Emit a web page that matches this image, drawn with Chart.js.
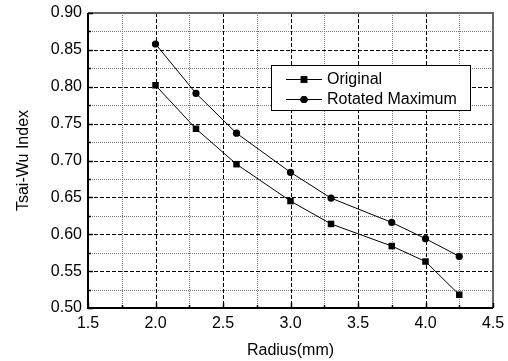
<!DOCTYPE html>
<html>
<head>
<meta charset="utf-8">
<script src="https://cdn.jsdelivr.net/npm/chart.js@4/dist/chart.umd.min.js"></script>
<style>
  html, body { margin: 0; padding: 0; background: #fff; }
  #wrap { width: 508px; height: 361px; }
</style>
</head>
<body>
<div id="wrap"><canvas id="chart"></canvas></div>
<script>
// values
const radius = [2.0, 2.3, 2.6, 3.0, 3.3, 3.75, 4.0, 4.25];
const original = [0.802, 0.743, 0.695, 0.645, 0.614, 0.584, 0.563, 0.518];
const rotatedMax = [0.858, 0.791, 0.737, 0.684, 0.649, 0.616, 0.594, 0.570];
const seriesNames = ["Original", "Rotated Maximum"];
const xTicks = [1.5, 2.0, 2.5, 3.0, 3.5, 4.0, 4.5];
const yTicks = [0.50, 0.55, 0.60, 0.65, 0.70, 0.75, 0.80, 0.85, 0.90];

const FONT = "Liberation Sans, Arial, sans-serif";

function toPoints(xs, ys) {
    return xs.map((x, i) => ({ x: x, y: ys[i] }));
}

// dashed major grid, dotted minor grid, frame and inside ticks
const gridPlugin = {
    id: "originGrid",
    beforeDatasetsDraw(chart) {
        const ctx = chart.ctx;
        const a = chart.chartArea;
        const xs = chart.scales.x, ys = chart.scales.y;
        const px = v => Math.round(xs.getPixelForValue(v)) + 0.5;
        const py = v => Math.round(ys.getPixelForValue(v)) + 0.5;
        ctx.save();
        ctx.lineWidth = 1;

        // minor dotted
        ctx.strokeStyle = "#777";
        ctx.setLineDash([1, 1]);
        for (let i = 0; i < xTicks.length - 1; i++) {
            const x = px((xTicks[i] + xTicks[i + 1]) / 2);
            ctx.beginPath(); ctx.moveTo(x, a.top); ctx.lineTo(x, a.bottom); ctx.stroke();
        }
        for (let i = 0; i < yTicks.length - 1; i++) {
            const y = py((yTicks[i] + yTicks[i + 1]) / 2);
            ctx.beginPath(); ctx.moveTo(a.left, y); ctx.lineTo(a.right, y); ctx.stroke();
        }
        // major dashed
        ctx.strokeStyle = "#000";
        ctx.setLineDash([4, 2]);
        xTicks.slice(1, -1).forEach(v => {
            const x = px(v);
            ctx.beginPath(); ctx.moveTo(x, a.top); ctx.lineTo(x, a.bottom); ctx.stroke();
        });
        yTicks.slice(1, -1).forEach(v => {
            const y = py(v);
            ctx.beginPath(); ctx.moveTo(a.left, y); ctx.lineTo(a.right, y); ctx.stroke();
        });
        ctx.setLineDash([]);

        // frame
        ctx.lineWidth = 2;
        ctx.strokeStyle = "#666";
        ctx.beginPath();
        ctx.moveTo(a.left, a.top); ctx.lineTo(a.right, a.top); ctx.lineTo(a.right, a.bottom);
        ctx.stroke();
        ctx.strokeStyle = "#000";
        ctx.beginPath();
        ctx.moveTo(a.left, a.top); ctx.lineTo(a.left, a.bottom); ctx.lineTo(a.right, a.bottom);
        ctx.stroke();

        // inside ticks
        ctx.lineWidth = 1.5;
        xTicks.forEach((v, i) => {
            const x = px(v);
            ctx.beginPath(); ctx.moveTo(x, a.bottom); ctx.lineTo(x, a.bottom - 5); ctx.stroke();
            if (i < xTicks.length - 1) {
                const m = px((v + xTicks[i + 1]) / 2);
                ctx.beginPath(); ctx.moveTo(m, a.bottom); ctx.lineTo(m, a.bottom - 3); ctx.stroke();
            }
        });
        yTicks.forEach((v, i) => {
            const y = py(v);
            ctx.beginPath(); ctx.moveTo(a.left, y); ctx.lineTo(a.left + 5, y); ctx.stroke();
            if (i < yTicks.length - 1) {
                const m = py((v + yTicks[i + 1]) / 2);
                ctx.beginPath(); ctx.moveTo(a.left, m); ctx.lineTo(a.left + 3, m); ctx.stroke();
            }
        });
        ctx.restore();
    }
};

// boxed legend inside the plot, symbol drawn as line-marker-line
const legendPlugin = {
    id: "boxLegend",
    afterDatasetsDraw(chart) {
        const ctx = chart.ctx;
        const box = { x: 271.5, y: 65.5, w: 199, h: 45 };
        ctx.save();
        ctx.fillStyle = "#fff";
        ctx.fillRect(box.x, box.y, box.w, box.h);
        ctx.strokeStyle = "#000";
        ctx.lineWidth = 1;
        ctx.strokeRect(box.x, box.y, box.w, box.h);
        ctx.font = "16px " + FONT;
        ctx.textBaseline = "middle";
        ctx.fillStyle = "#000";
        chart.data.datasets.forEach((ds, i) => {
            const y = 79 + i * 20;
            ctx.beginPath(); ctx.moveTo(286, y + 0.5); ctx.lineTo(322, y + 0.5); ctx.stroke();
            Chart.helpers.drawPoint(ctx, {
                pointStyle: ds.pointStyle, radius: ds.pointRadius,
                borderWidth: 0, rotation: 0
            }, 304, y + 0.5);
            ctx.fill();
            ctx.fillText(ds.label, 327, y + 1);
        });
        ctx.restore();
    }
};

new Chart(document.getElementById("chart"), {
    type: "scatter",
    data: {
        datasets: [
            {
                label: seriesNames[0],
                data: toPoints(radius, original),
                showLine: true,
                borderColor: "#000",
                borderWidth: 1,
                backgroundColor: "#000",
                pointStyle: "rect",
                pointRadius: 4.6,
                pointBorderWidth: 0
            },
            {
                label: seriesNames[1],
                data: toPoints(radius, rotatedMax),
                showLine: true,
                borderColor: "#000",
                borderWidth: 1,
                backgroundColor: "#000",
                pointStyle: "circle",
                pointRadius: 3.6,
                pointBorderWidth: 0
            }
        ]
    },
    options: {
        responsive: true,
        maintainAspectRatio: false,
        animation: false,
        layout: { padding: { left: 0, right: 15, top: 13, bottom: 0 } },
        plugins: {
            legend: { display: false },
            tooltip: { enabled: false }
        },
        scales: {
            x: {
                type: "linear",
                min: 1.5,
                max: 4.5,
                afterBuildTicks: s => { s.ticks = xTicks.map(v => ({ value: v })); },
                afterFit: s => { s.height = 53; s.paddingLeft = 0; s.paddingRight = 0; },
                grid: { display: false, drawTicks: false },
                border: { display: false },
                ticks: {
                    padding: 6,
                    color: "#000",
                    font: { family: FONT, size: 16 },
                    callback: v => v.toFixed(1)
                },
                title: {
                    display: true,
                    text: "Radius(mm)",
                    color: "#000",
                    font: { family: FONT, size: 16 },
                    padding: 1
                }
            },
            y: {
                type: "linear",
                min: 0.5,
                max: 0.9,
                afterBuildTicks: s => { s.ticks = yTicks.map(v => ({ value: v })); },
                afterFit: s => { s.width = 88; s.paddingTop = 0; s.paddingBottom = 0; },
                grid: { display: false, drawTicks: false },
                border: { display: false },
                ticks: {
                    padding: 6,
                    color: "#000",
                    font: { family: FONT, size: 16 },
                    callback: v => v.toFixed(2)
                },
                title: {
                    display: true,
                    text: "Tsai-Wu Index",
                    color: "#000",
                    font: { family: FONT, size: 16 },
                    padding: 13.5
                }
            }
        }
    },
    plugins: [gridPlugin, legendPlugin]
});
</script>
</body>
</html>
